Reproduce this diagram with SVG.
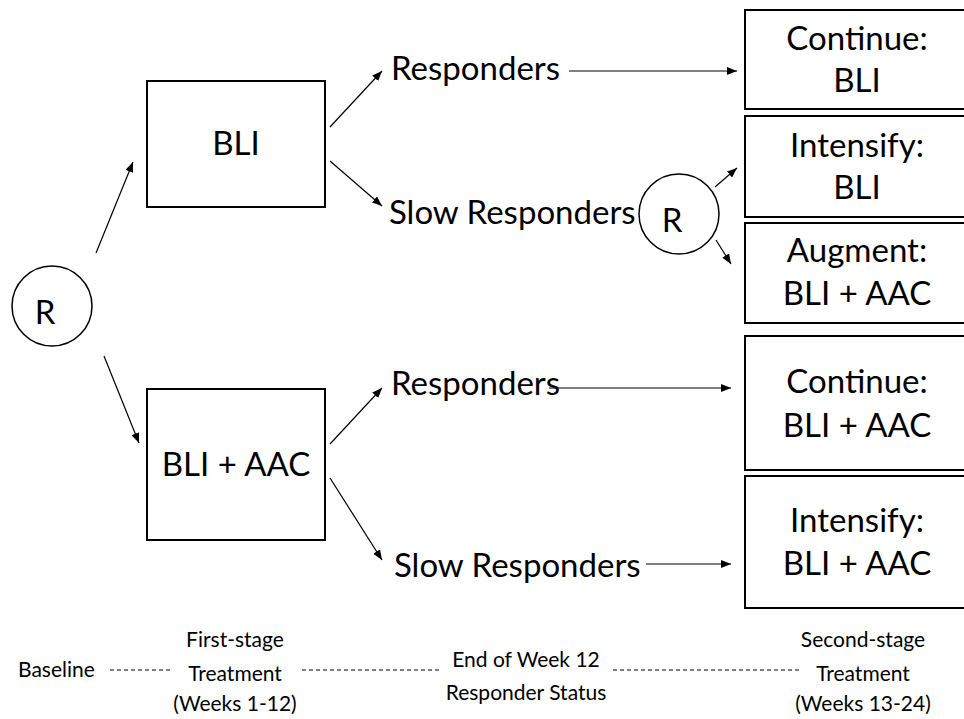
<svg xmlns="http://www.w3.org/2000/svg" width="964" height="719" viewBox="0 0 964 719">
<style>
  .box{fill:#fff;stroke:#000;stroke-width:2}
  .circ{fill:#fff;stroke:#000;stroke-width:1.5}
  .t{font-family:Lato,"Liberation Sans",sans-serif;font-size:33px;fill:#000}
  .c{text-anchor:middle}
  .s{font-family:Lato,"Liberation Sans",sans-serif;font-size:21px;fill:#000}
  .ln{stroke:#000;stroke-width:1.2;fill:none}
  .dash{stroke:#000;stroke-width:1;stroke-dasharray:4 3;fill:none}
</style>
<defs>
  <marker id="ah" markerUnits="userSpaceOnUse" markerWidth="10" markerHeight="8" refX="10" refY="4" orient="auto">
    <path d="M0,0 L10,4 L0,8 z" fill="#000"/>
  </marker>
</defs>

<g id="r1"><circle class="circ" cx="52" cy="306" r="40"/><text class="t c" x="45" y="324" font-size="40">R</text></g>
<g id="bli"><rect class="box" x="147" y="81" width="178" height="126"/><text class="t c" x="236" y="155">BLI</text></g>
<g id="bliaac"><rect class="box" x="147" y="389" width="178" height="151"/><text class="t c" x="236" y="476">BLI + AAC</text></g>
<g id="resp1"><text class="t" x="391" y="80">Responders</text></g>
<g id="slow1"><text class="t" x="389" y="224">Slow Responders</text></g>
<g id="r2"><circle class="circ" cx="679" cy="214" r="40"/><text class="t c" x="672" y="232" font-size="40">R</text></g>
<g id="resp2"><text class="t" x="391" y="395">Responders</text></g>
<g id="slow2"><text class="t" x="394" y="577">Slow Responders</text></g>

<g id="cont1"><rect class="box" x="745" y="10" width="226" height="99"/><text class="t c" x="857" y="50">Continue:</text><text class="t c" x="857" y="92">BLI</text></g>
<g id="int1"><rect class="box" x="745" y="116" width="226" height="101"/><text class="t c" x="857" y="157">Intensify:</text><text class="t c" x="857" y="199">BLI</text></g>
<g id="aug"><rect class="box" x="745" y="223" width="226" height="100"/><text class="t c" x="857" y="262">Augment:</text><text class="t c" x="857" y="305">BLI + AAC</text></g>
<g id="cont2"><rect class="box" x="745" y="336" width="226" height="134"/><text class="t c" x="857" y="393">Continue:</text><text class="t c" x="857" y="437">BLI + AAC</text></g>
<g id="int2"><rect class="box" x="745" y="476" width="226" height="132"/><text class="t c" x="857" y="532">Intensify:</text><text class="t c" x="857" y="575">BLI + AAC</text></g>

<g id="timeline">
  <text class="s" x="18" y="677">Baseline</text>
  <text class="s c" x="235" y="647">First-stage</text>
  <text class="s c" x="235" y="681">Treatment</text>
  <text class="s c" x="235" y="711">(Weeks 1-12)</text>
  <text class="s c" x="526" y="667">End of Week 12</text>
  <text class="s c" x="526" y="700">Responder Status</text>
  <text class="s c" x="863" y="647">Second-stage</text>
  <text class="s c" x="863" y="681">Treatment</text>
  <text class="s c" x="863" y="711">(Weeks 13-24)</text>
</g>

<g id="connectors">
  <line class="ln" x1="96" y1="253" x2="133" y2="162" marker-end="url(#ah)"/>
  <line class="ln" x1="104" y1="356" x2="139" y2="443" stroke-width="2" marker-end="url(#ah)"/>
  <line class="ln" x1="330" y1="127" x2="382" y2="71" marker-end="url(#ah)"/>
  <line class="ln" x1="330" y1="161" x2="382" y2="206" marker-end="url(#ah)"/>
  <line class="ln" x1="330" y1="444" x2="382" y2="388" marker-end="url(#ah)"/>
  <line class="ln" x1="330" y1="478" x2="382" y2="560" marker-end="url(#ah)"/>
  <line class="ln" x1="569" y1="71" x2="737" y2="71" marker-end="url(#ah)"/>
  <line class="ln" x1="715" y1="187" x2="737" y2="168" marker-end="url(#ah)"/>
  <line class="ln" x1="716" y1="240" x2="731" y2="264" marker-end="url(#ah)"/>
  <line class="ln" x1="549" y1="388" x2="731" y2="388" marker-end="url(#ah)"/>
  <line class="ln" x1="646" y1="564" x2="731" y2="564" marker-end="url(#ah)"/>
  <line class="dash" x1="110" y1="670" x2="171" y2="670"/>
  <line class="dash" x1="302" y1="670" x2="440" y2="670"/>
  <line class="dash" x1="613" y1="670" x2="800" y2="670"/>
</g>
</svg>
